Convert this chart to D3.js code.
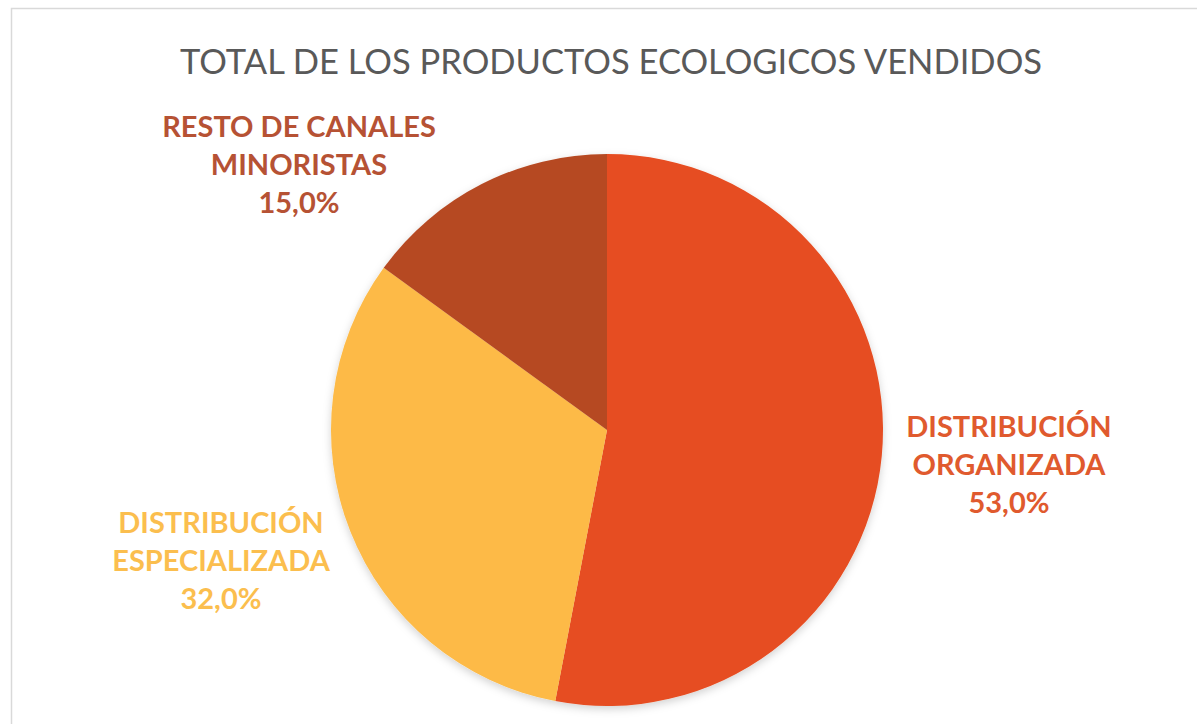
<!DOCTYPE html>
<html>
<head>
<meta charset="utf-8">
<script src="https://cdn.jsdelivr.net/npm/d3@7"></script>
<style>
  body { margin: 0; background: #fff; }
  text { font-family: Lato, "Open Sans", sans-serif; }
</style>
</head>
<body>
<div id="chart"></div>
<script>
// data
const categories = ["DISTRIBUCIÓN ORGANIZADA", "DISTRIBUCIÓN ESPECIALIZADA", "RESTO DE CANALES MINORISTAS"];
const shares = [53.0, 32.0, 15.0];
const colors = ["#E64D21", "#FDBA46", "#B64A23"];
const labelColors = ["#E05A2E", "#FBBE4E", "#B65234"];
const labelLines = [["DISTRIBUCIÓN", "ORGANIZADA"], ["DISTRIBUCIÓN", "ESPECIALIZADA"], ["RESTO DE CANALES", "MINORISTAS"]];
const title = "TOTAL DE LOS PRODUCTOS ECOLOGICOS VENDIDOS";

const width = 1197, height = 724;
const cx = 607, cy = 430, radius = 276;

const svg = d3.select("#chart").append("svg")
    .attr("width", width)
    .attr("height", height);

// chart frame
svg.append("rect")
    .attr("x", 11.5).attr("y", 8.5)
    .attr("width", width + 20).attr("height", height + 20)
    .attr("fill", "none")
    .attr("stroke", "#d9d9d9")
    .attr("stroke-width", 1.5);

// title
svg.append("text")
    .text(title)
    .attr("x", 611)
    .attr("y", 74)
    .attr("text-anchor", "middle")
    .attr("textLength", 862)
    .attr("lengthAdjust", "spacingAndGlyphs")
    .style("font-size", "34px")
    .style("fill", "#595959");

// soft shadow under the pie
const defs = svg.append("defs");
const filter = defs.append("filter").attr("id", "shadow")
    .attr("x", "-10%").attr("y", "-10%").attr("width", "120%").attr("height", "125%");
filter.append("feDropShadow")
    .attr("dx", 0).attr("dy", 3)
    .attr("stdDeviation", 4)
    .attr("flood-color", "#000")
    .attr("flood-opacity", 0.18);

const pie = d3.pie().sort(null).value(d => d);
const arc = d3.arc().innerRadius(0).outerRadius(radius);
const arcs = pie(shares);

const g = svg.append("g")
    .attr("transform", "translate(" + cx + "," + cy + ")")
    .attr("filter", "url(#shadow)");

g.selectAll("path")
    .data(arcs)
    .enter()
    .append("path")
    .attr("d", arc)
    .attr("fill", (d, i) => colors[i]);

// label anchors: centre x, first baseline (outside the pie, as in the picture)
const labelPos = [[1009, 437], [221, 533], [299, 137]];
const fmt = v => v.toFixed(1).replace(".", ",") + "%";

const labels = svg.append("g");
arcs.forEach((d, i) => {
    const t = labels.append("text")
        .attr("x", labelPos[i][0])
        .attr("y", labelPos[i][1])
        .attr("text-anchor", "middle")
        .style("font-size", "29px")
        .style("font-weight", "bold")
        .style("fill", labelColors[i]);
    labelLines[i].concat([fmt(shares[i])]).forEach((line, j) => {
        t.append("tspan")
            .attr("x", labelPos[i][0])
            .attr("dy", j === 0 ? 0 : 38)
            .text(line);
    });
});
</script>
</body>
</html>
